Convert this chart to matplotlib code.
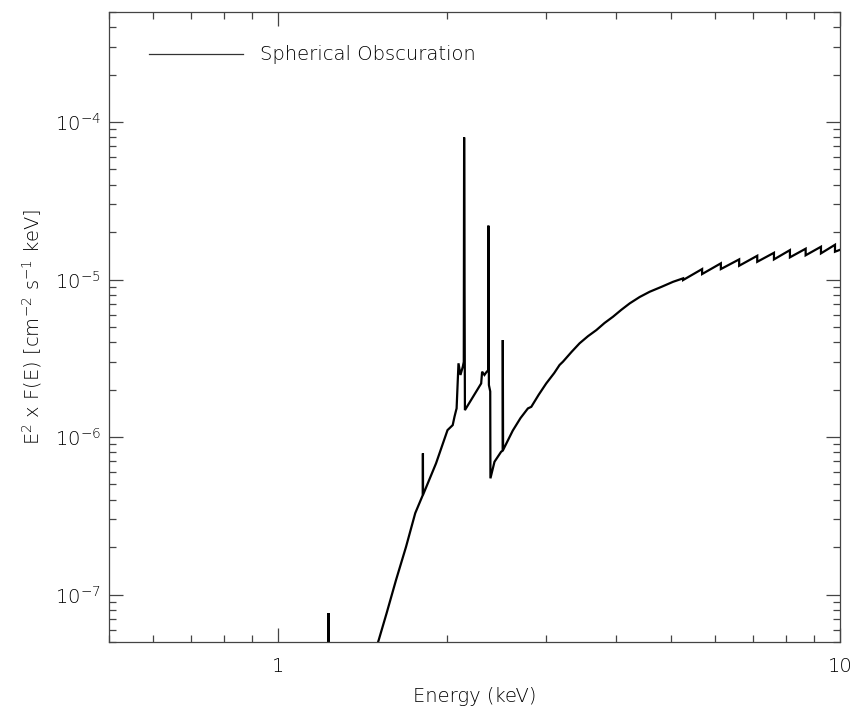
import numpy as np
import matplotlib
matplotlib.use('Agg')
import matplotlib.pyplot as plt
from matplotlib.lines import Line2D
from matplotlib.ticker import LogLocator, NullFormatter

# spectrum: energy (keV) and E^2 F(E)
energy = [1.20, 1.228, 1.229, 1.230, 1.45,
          1.510, 1.560, 1.621, 1.689, 1.754, 1.809, 1.810, 1.811,
          1.910, 2.002, 2.045, 2.060, 2.074, 2.078,
          2.094, 2.111, 2.131, 2.140, 2.143, 2.150,
          2.298, 2.307, 2.329, 2.351, 2.365, 2.367, 2.372, 2.385, 2.387,
          2.427, 2.494, 2.510, 2.511, 2.514,
          2.616, 2.700, 2.783, 2.822, 2.910, 3.000, 3.100, 3.169, 3.213, 3.330, 3.440, 3.560, 3.685,
          3.810, 3.945, 4.080, 4.224, 4.400, 4.585, 4.811, 5.046,
          5.257, 5.257, 5.683, 5.683, 6.137, 6.137, 6.615, 6.615,
          7.124, 7.124, 7.629, 7.629, 8.145, 8.145, 8.687, 8.687,
          9.250, 9.250, 9.797, 9.797, 10.16]
flux = [1e-9, 1e-9, 7.63e-8, 1e-9, 3.3e-8,
        5.14e-8, 7.63e-8, 1.236e-7, 2.01e-7, 3.29e-7, 4.28e-7, 7.88e-7, 4.30e-7,
        6.81e-7, 1.107e-6, 1.191e-6, 1.345e-6, 1.483e-6, 1.52e-6,
        2.94e-6, 2.48e-6, 2.79e-6, 3.0e-6, 7.99e-5, 1.483e-6,
        2.19e-6, 2.60e-6, 2.48e-6, 2.60e-6, 2.65e-6, 2.20e-5, 2.14e-6, 1.95e-6, 5.47e-7,
        6.97e-7, 8.07e-7, 8.2e-7, 4.13e-6, 8.27e-7,
        1.10e-6, 1.32e-6, 1.52e-6, 1.556e-6, 1.86e-6, 2.19e-6, 2.55e-6, 2.87e-6, 3.01e-6, 3.48e-6, 3.94e-6, 4.37e-6, 4.78e-6,
        5.30e-6, 5.81e-6, 6.42e-6, 7.06e-6, 7.75e-6, 8.37e-6, 8.99e-6, 9.68e-6,
        1.018e-5, 9.93e-6, 1.166e-5, 1.084e-5, 1.268e-5, 1.166e-5, 1.343e-5, 1.224e-5,
        1.416e-5, 1.297e-5, 1.479e-5, 1.343e-5, 1.538e-5, 1.384e-5, 1.570e-5, 1.426e-5,
        1.616e-5, 1.467e-5, 1.663e-5, 1.503e-5, 1.578e-5]

label = 'Spherical Obscuration'

plt.rcParams['font.family'] = ['DejaVu Sans']
plt.rcParams['font.weight'] = 'light'
plt.rcParams['axes.labelweight'] = 'light'
plt.rcParams['mathtext.default'] = 'regular'

txt = '#000000'
axc = '#444444'

fig = plt.figure(figsize=(8.61, 7.13), dpi=100)
ax = fig.add_axes([0.1266, 0.0996, 0.849, 0.8836])

ax.plot(energy, flux, color='black', lw=1.6, solid_joinstyle='miter')
ax.set_xscale('log')
ax.set_yscale('log')
ax.set_xlim(0.5, 10)
ax.set_ylim(5e-8, 5e-4)

ax.set_xticks([1, 10], ['1', '10'])
ax.xaxis.set_minor_locator(LogLocator(base=10, subs=np.arange(2, 10)))
ax.xaxis.set_minor_formatter(NullFormatter())

for s in ax.spines.values():
    s.set_color(axc)
    s.set_linewidth(0.9)

ax.tick_params(which='both', direction='in', top=True, right=True, colors=axc,
               labelcolor=txt, labelsize=14, width=0.9)
ax.tick_params(which='major', length=10)
ax.tick_params(which='minor', length=5)
ax.tick_params(axis='x', which='major', pad=11)
ax.tick_params(axis='y', which='major', pad=6)

ax.set_xlabel('Energy (keV)', fontsize=14, color=txt, labelpad=8)
ax.set_ylabel(r'E$^2$ x F(E) [cm$^{-2}$ s$^{-1}$ keV]', fontsize=14, color=txt, labelpad=8)

handle = Line2D([], [], color='#333333', lw=0.9)
ax.legend([handle], [label], loc='center left', bbox_to_anchor=(0.055, 0.932),
          frameon=False, fontsize=14, handlelength=4.8, handletextpad=0.9,
          borderpad=0, borderaxespad=0, labelcolor=txt)

fig.savefig('out.png', dpi=100)
